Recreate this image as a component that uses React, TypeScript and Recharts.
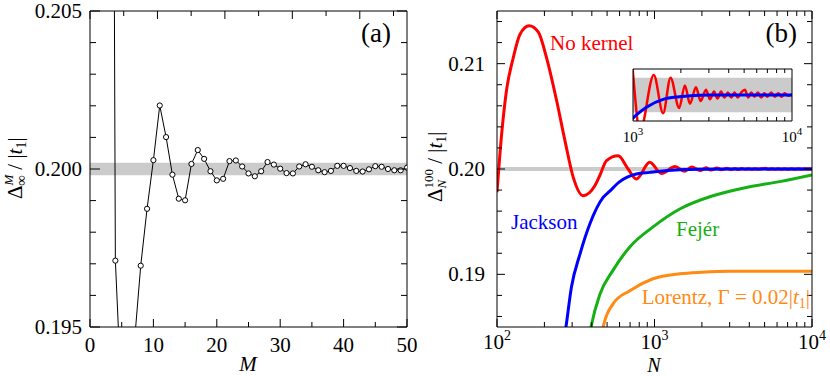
import React from "react";
import { LineChart, Line, XAxis, YAxis, ReferenceArea } from "recharts";

const SERIF = "'Liberation Serif', 'Times New Roman', serif";
const RED = "#ff0000";
const BLUE = "#0000ff";
const GREEN = "#14b014";
const ORANGE = "#ff8a14";
const BAND = "#cbcbcb";
const AXIS_LINE = { stroke: "#000", strokeWidth: 1 };

// (a) gap for infinite size vs. expansion order M
const orderM = [3, 4, 5, 6, 7, 8, 9, 10, 11, 12, 13, 14, 15, 16, 17, 18, 19, 20, 21, 22, 23, 24, 25, 26, 27, 28, 29, 30, 31, 32, 33, 34, 35, 36, 37, 38, 39, 40, 41, 42, 43, 44, 45, 46, 47, 48, 49, 50];
const gapInf = [0.25, 0.1971, 0.1926, 0.1905, 0.1945, 0.19694, 0.19874, 0.20028, 0.20201, 0.20101, 0.19982, 0.19906, 0.19901, 0.20016, 0.2006, 0.20032, 0.19993, 0.19964, 0.19969, 0.20025, 0.20027, 0.20008, 0.19986, 0.19977, 0.19993, 0.20022, 0.20014, 0.20001, 0.19987, 0.19986, 0.20008, 0.20015, 0.20007, 0.19996, 0.1999, 0.19994, 0.2001, 0.2001, 0.20003, 0.19994, 0.19992, 0.19999, 0.20009, 0.20007, 0.2, 0.19996, 0.19996, 0.20004];
const orderTicks = [0, 5, 10, 15, 20, 25, 30, 35, 40, 45, 50];
const orderMajor = [0, 10, 20, 30, 40, 50];
const gapTicksA = [0.195, 0.196, 0.197, 0.198, 0.199, 0.2, 0.201, 0.202, 0.203, 0.204, 0.205];
const gapMajorA = [0.195, 0.2, 0.205];

// (b) gap for 100 sites vs. number of moments N
const momentTicks = [100, 200, 300, 400, 500, 600, 700, 800, 900, 1000, 2000, 3000, 4000, 5000, 6000, 7000, 8000, 9000, 10000];
const momentMajor = [100, 1000, 10000];
const gapTicksB = [0.186, 0.188, 0.19, 0.192, 0.194, 0.196, 0.198, 0.2, 0.202, 0.204, 0.206, 0.208, 0.21, 0.212, 0.214];
const gapMajorB = [0.19, 0.2, 0.21];
const insetTicks = [1000, 2000, 3000, 4000, 5000, 6000, 7000, 8000, 9000, 10000];
const insetMajor = [1000, 10000];

const noKernelN = [100, 107, 115, 127, 140, 160, 183, 206, 239, 270, 305, 352, 418, 450, 496, 588, 680, 767, 933, 1107, 1351, 1547, 1722, 1951, 2120, 2280, 2489, 2663, 2877, 3050, 3230, 3400, 3580, 3760, 3950, 4150, 4350, 4560, 4800, 5060, 5300, 5550, 5800, 6100, 6400, 6700, 7000, 7400, 7800, 8200, 8600, 9000, 9500, 10000];
const noKernelGap = [0.1978, 0.2033, 0.2075, 0.2106, 0.2128, 0.2136, 0.213, 0.2106, 0.2065, 0.2027, 0.1992, 0.19746, 0.1984, 0.1994, 0.2008, 0.20126, 0.2, 0.19905, 0.20063, 0.19958, 0.20023, 0.19979, 0.2002, 0.19985, 0.20011, 0.1999, 0.20009, 0.19993, 0.20006, 0.19995, 0.20004, 0.19996, 0.20004, 0.19997, 0.20003, 0.19997, 0.20003, 0.19997, 0.20003, 0.20006, 0.19997, 0.20003, 0.19998, 0.20003, 0.19997, 0.20002, 0.19998, 0.20003, 0.19998, 0.20002, 0.19998, 0.20002, 0.19999, 0.20001];
const jacksonN = [255, 274, 297, 336, 389, 472, 520, 602, 767, 933, 1050, 1215, 1547, 1950, 3000, 10000];
const jacksonGap = [0.182, 0.185, 0.1888, 0.1919, 0.1948, 0.1973, 0.1979, 0.1988, 0.19952, 0.19968, 0.19977, 0.19986, 0.19995, 0.19998, 0.2, 0.2];
const fejerN = [375, 395, 450, 546, 697, 979, 1446, 2350, 3828, 6223, 10000];
const fejerGap = [0.1832, 0.185, 0.1881, 0.1904, 0.1926, 0.1945, 0.1962, 0.19746, 0.19825, 0.1988, 0.19943];
const lorentzN = [455, 472, 546, 697, 979, 1446, 2000, 3000, 10000];
const lorentzGap = [0.1832, 0.185, 0.1872, 0.18845, 0.18958, 0.19005, 0.1902, 0.19029, 0.19029];

const zip = (ns: number[], gaps: number[]) => ns.map((n, i) => ({ n, gap: gaps[i] }));

const near = (v: number, list: number[]) => list.some((m) => Math.abs(m - v) <= Math.abs(m) * 1e-6 + 1e-12);

type Side = "left" | "right" | "top" | "bottom";

// draws inward tick marks, with a label on the major ones
function makeTick(side: Side, majors: number[], majorLen: number, minorLen: number, label?: (v: number, x: number, y: number) => React.ReactNode) {
  return (props: any) => {
    const { x, y, payload } = props;
    const v = payload.value;
    const major = near(v, majors);
    const len = major ? majorLen : minorLen;
    const dx = side === "left" ? len : side === "right" ? -len : 0;
    const dy = side === "bottom" ? -len : side === "top" ? len : 0;
    return (
      <g>
        {len > 0 && <line x1={x} y1={y} x2={x + dx} y2={y + dy} stroke="#000" strokeWidth={1} />}
        {major && label ? label(v, x, y) : null}
      </g>
    );
  };
}

const numBottom = (v: number, x: number, y: number) => (
  <text x={x} y={y + 25} textAnchor="middle" fontFamily={SERIF} fontSize={21} fill="#000">
    {String(v)}
  </text>
);

const numLeft = (digits: number, gap: number) => (v: number, x: number, y: number) => (
  <text x={x - gap} y={y + 7} textAnchor="end" fontFamily={SERIF} fontSize={21} fill="#000">
    {v.toFixed(digits)}
  </text>
);

const powBottom = (size: number, base: number, supSize: number, supDy: number) => (v: number, x: number, y: number) => (
  <text x={x} y={y + base} textAnchor="middle" fontFamily={SERIF} fontSize={size} fill="#000">
    <tspan>10</tspan>
    <tspan fontSize={supSize} dy={supDy}>{Math.round(Math.log10(v))}</tspan>
  </text>
);

function PanelA() {
  const data = orderM.map((m, i) => ({ m, gap: gapInf[i] }));
  return (
    <LineChart width={420} height={376} data={data} margin={{ top: 10, right: 0, bottom: 0, left: 0 }}>
      <XAxis xAxisId="b" dataKey="m" type="number" domain={[0, 50]} allowDataOverflow ticks={orderTicks} interval={0} height={49} tickSize={0} tickMargin={0} tickLine={false} axisLine={AXIS_LINE} tick={makeTick("bottom", orderMajor, 8, 5, numBottom)} />
      <XAxis xAxisId="t" orientation="top" type="number" domain={[0, 50]} allowDataOverflow ticks={orderTicks} interval={0} height={1} tickSize={0} tickMargin={0} tickLine={false} axisLine={AXIS_LINE} tick={makeTick("top", orderMajor, 8, 5)} />
      <YAxis yAxisId="l" type="number" domain={[0.195, 0.205]} allowDataOverflow ticks={gapTicksA} interval={0} width={90} tickSize={0} tickMargin={0} tickLine={false} axisLine={AXIS_LINE} tick={makeTick("left", gapMajorA, 10, 6, numLeft(3, 8))} />
      <YAxis yAxisId="r" orientation="right" type="number" domain={[0.195, 0.205]} allowDataOverflow ticks={gapTicksA} interval={0} width={13} tickSize={0} tickMargin={0} tickLine={false} axisLine={AXIS_LINE} tick={makeTick("right", gapMajorA, 10, 6)} />
      <ReferenceArea xAxisId="b" yAxisId="l" y1={0.1998} y2={0.2002} fill={BAND} fillOpacity={1} stroke="none" />
      <Line xAxisId="b" yAxisId="l" dataKey="gap" type="linear" stroke="#000" strokeWidth={1} dot={{ r: 2.6, fill: "#fff", stroke: "#000", strokeWidth: 1 }} activeDot={false} isAnimationActive={false} />
    </LineChart>
  );
}

function PanelB() {
  return (
    <LineChart width={410} height={376} margin={{ top: 10, right: 0, bottom: 0, left: 0 }}>
      <XAxis xAxisId="b" dataKey="n" type="number" scale="log" domain={[100, 10000]} allowDataOverflow ticks={momentTicks} interval={0} height={49} tickSize={0} tickMargin={0} tickLine={false} axisLine={AXIS_LINE} tick={makeTick("bottom", momentMajor, 8, 5, powBottom(21, 22, 14, -9))} />
      <XAxis xAxisId="t" orientation="top" dataKey="n" type="number" scale="log" domain={[100, 10000]} allowDataOverflow ticks={momentTicks} interval={0} height={1} tickSize={0} tickMargin={0} tickLine={false} axisLine={AXIS_LINE} tick={makeTick("top", momentMajor, 8, 5)} />
      <YAxis yAxisId="l" type="number" domain={[0.185, 0.215]} allowDataOverflow ticks={gapTicksB} interval={0} width={77} tickSize={0} tickMargin={0} tickLine={false} axisLine={AXIS_LINE} tick={makeTick("left", gapMajorB, 8, 5, numLeft(2, 12))} />
      <YAxis yAxisId="r" orientation="right" type="number" domain={[0.185, 0.215]} allowDataOverflow ticks={gapTicksB} interval={0} width={18} tickSize={0} tickMargin={0} tickLine={false} axisLine={AXIS_LINE} tick={makeTick("right", gapMajorB, 8, 5)} />
      <ReferenceArea xAxisId="b" yAxisId="l" y1={0.1998} y2={0.2002} fill={BAND} fillOpacity={1} stroke="none" />
      <Line xAxisId="b" yAxisId="l" data={zip(noKernelN, noKernelGap)} dataKey="gap" type="monotone" stroke={RED} strokeWidth={3} dot={false} activeDot={false} isAnimationActive={false} />
      <Line xAxisId="b" yAxisId="l" data={zip(fejerN, fejerGap)} dataKey="gap" type="monotone" stroke={GREEN} strokeWidth={3} dot={false} activeDot={false} isAnimationActive={false} />
      <Line xAxisId="b" yAxisId="l" data={zip(lorentzN, lorentzGap)} dataKey="gap" type="monotone" stroke={ORANGE} strokeWidth={3} dot={false} activeDot={false} isAnimationActive={false} />
      <Line xAxisId="b" yAxisId="l" data={zip(jacksonN, jacksonGap)} dataKey="gap" type="monotone" stroke={BLUE} strokeWidth={3} dot={false} activeDot={false} isAnimationActive={false} />
    </LineChart>
  );
}

function Inset() {
  const none = () => <g />;
  return (
    <LineChart width={210} height={100} margin={{ top: 8, right: 0, bottom: 0, left: 0 }}>
      <XAxis xAxisId="b" dataKey="n" type="number" scale="log" domain={[1000, 10000]} allowDataOverflow ticks={insetTicks} interval={0} height={39} tickSize={0} tickMargin={0} tickLine={false} axisLine={AXIS_LINE} tick={makeTick("bottom", insetMajor, 0, 4, powBottom(15, 21, 11, -7))} />
      <XAxis xAxisId="t" orientation="top" dataKey="n" type="number" scale="log" domain={[1000, 10000]} allowDataOverflow ticks={insetTicks} interval={0} height={1} tickSize={0} tickMargin={0} tickLine={false} axisLine={AXIS_LINE} tick={makeTick("top", insetMajor, 0, 4)} />
      <YAxis yAxisId="l" type="number" domain={[0.1997, 0.2003]} allowDataOverflow width={33} tickLine={false} tick={none} axisLine={AXIS_LINE} />
      <YAxis yAxisId="r" orientation="right" type="number" domain={[0.1997, 0.2003]} allowDataOverflow width={18} tickLine={false} tick={none} axisLine={AXIS_LINE} />
      <ReferenceArea xAxisId="b" yAxisId="l" y1={0.1998} y2={0.2002} fill={BAND} fillOpacity={1} stroke="none" />
      <Line xAxisId="b" yAxisId="l" data={zip(noKernelN, noKernelGap)} dataKey="gap" type="monotone" stroke={RED} strokeWidth={2.5} dot={false} activeDot={false} isAnimationActive={false} />
      <Line xAxisId="b" yAxisId="l" data={zip(jacksonN, jacksonGap)} dataKey="gap" type="monotone" stroke={BLUE} strokeWidth={3} dot={false} activeDot={false} isAnimationActive={false} />
    </LineChart>
  );
}

function Annotations() {
  const t = { fontFamily: SERIF, fontSize: 21 };
  return (
    <svg width={830} height={376} style={{ position: "absolute", left: 0, top: 0, pointerEvents: "none" }}>
      {/* axis titles */}
      <text transform="rotate(-90 15 168)" x={15 - 31} y={168 + 7} {...t} fill="#000">
        <tspan>Δ</tspan>
        <tspan fontSize={13} fontStyle="italic" dy={-9}>M</tspan>
        <tspan fontSize={15} dx={-11} dy={13}>∞</tspan>
        <tspan dy={-4}> / |</tspan>
        <tspan fontStyle="italic">t</tspan>
        <tspan fontSize={14} dy={4}>1</tspan>
        <tspan dy={-4}>|</tspan>
      </text>
      <text transform="rotate(-90 435 167)" x={435 - 35} y={167 + 7} {...t} fill="#000">
        <tspan>Δ</tspan>
        <tspan fontSize={13} dy={-9}>100</tspan>
        <tspan fontSize={13} fontStyle="italic" dx={-19.5} dy={13}>N</tspan>
        <tspan dx={10.8} dy={-4}> / |</tspan>
        <tspan fontStyle="italic">t</tspan>
        <tspan fontSize={14} dy={4}>1</tspan>
        <tspan dy={-4}>|</tspan>
      </text>
      <text x={248} y={370.5} textAnchor="middle" {...t} fontStyle="italic" fill="#000">M</text>
      <text x={654} y={371.5} textAnchor="middle" fontFamily={SERIF} fontSize={20} fontStyle="italic" fill="#000">N</text>

      {/* panel tags */}
      <text x={391} y={42} textAnchor="end" fontFamily={SERIF} fontSize={27} fill="#000">(a)</text>
      <text x={797} y={42} textAnchor="end" fontFamily={SERIF} fontSize={27} fill="#000">(b)</text>

      {/* curve labels */}
      <text x={550} y={50} {...t} fill={RED}>No kernel</text>
      <text x={511} y={229} {...t} fill={BLUE}>Jackson</text>
      <text x={676} y={236} {...t} fill={GREEN}>Fejér</text>
      <text x={810} y={304} textAnchor="end" {...t} fill={ORANGE}>
        <tspan>Lorentz, Γ = 0.02|</tspan>
        <tspan fontStyle="italic">t</tspan>
        <tspan fontSize={14} dy={4}>1</tspan>
        <tspan dy={-4}>|</tspan>
      </text>
    </svg>
  );
}

export default function App() {
  return (
    <div style={{ position: "absolute", left: 0, top: 0, width: 830, height: 376, background: "#fff", fontFamily: SERIF }}>
      <div style={{ position: "absolute", left: 0, top: 0 }}>
        <PanelA />
      </div>
      <div style={{ position: "absolute", left: 420, top: 0 }}>
        <PanelB />
      </div>
      <div style={{ position: "absolute", left: 600, top: 60 }}>
        <Inset />
      </div>
      <Annotations />
    </div>
  );
}
